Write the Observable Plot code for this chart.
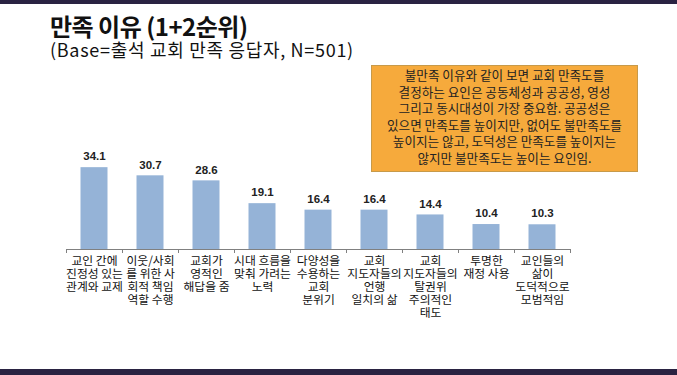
<!DOCTYPE html>
<html>
<head>
<meta charset="utf-8">
<script src="https://cdn.jsdelivr.net/npm/d3@7"></script>
<script src="https://cdn.jsdelivr.net/npm/@observablehq/plot@0.6"></script>
<style>
  html, body { margin: 0; padding: 0; background: #fff; }
  #page { position: relative; width: 677px; height: 375px; overflow: hidden; font-family: "Noto Sans CJK KR", "Noto Sans", sans-serif; }
  .band { position: absolute; left: 0; width: 677px; background: #2a2342; }
  #title { position: absolute; left: 50px; top: 11px; font-size: 24px; font-weight: bold; color: #111; letter-spacing: -0.5px; line-height: 30px; }
  #subtitle { position: absolute; left: 50px; top: 39px; font-size: 18px; color: #111; line-height: 20px; letter-spacing: 0.7px; }
  #note { position: absolute; z-index: 2; left: 371px; top: 65px; width: 265px; height: 104px; background: #f6aa3c; border: 1px solid #c79a4a; font-size: 12.6px; color: #222; text-align: center; line-height: 16.5px; padding-top: 1px; white-space: nowrap; }
  #chart { position: absolute; z-index: 1; left: 0; top: 140px; }
</style>
</head>
<body>
<div id="page">
  <div class="band" style="top:0;height:4px"></div>
  <div class="band" style="top:369px;height:6px"></div>
  <div id="title">만족 이유 (1+2순위)</div>
  <div id="subtitle">(Base=출석 교회 만족 응답자, N=501)</div>
  <div id="note">불만족 이유와 같이 보면 교회 만족도를<br>결정하는 요인은 공동체성과 공공성, 영성<br>그리고 동시대성이 가장 중요함. 공공성은<br>있으면 만족도를 높이지만, 없어도 불만족도를<br>높이지는 않고, 도덕성은 만족도를 높이지는<br>않지만 불만족도는 높이는 요인임.</div>
  <div id="chart"></div>
</div>
<script>
const categories = [
  "교인 간에\n진정성 있는\n관계와 교제",
  "이웃/사회\n를 위한 사\n회적 책임\n역할 수행",
  "교회가\n영적인\n해답을 줌",
  "시대 흐름을\n맞춰 가려는\n노력",
  "다양성을\n수용하는\n교회\n분위기",
  "교회\n지도자들의\n언행\n일치의 삶",
  "교회\n지도자들의\n탈권위\n주의적인\n태도",
  "투명한\n재정 사용",
  "교인들의\n삶이\n도덕적으로\n모범적임"
];
const values = [34.1, 30.7, 28.6, 19.1, 16.4, 16.4, 14.4, 10.4, 10.3];

const data = categories.map((c, i) => ({ i, label: c, value: values[i] }));
const boundaries = d3.range(categories.length + 1);

const chart = Plot.plot({
  width: 677,
  height: 230,
  marginLeft: 66,
  marginRight: 107,
  marginTop: 13,
  marginBottom: 121,
  x: { domain: [0, categories.length], axis: null },
  y: { domain: [0, 40], axis: null },
  style: { fontFamily: "'Noto Sans CJK KR', sans-serif", background: "transparent" },
  marks: [
    Plot.rectY(data, { x1: "i", x2: d => d.i + 1, y: "value", fill: "#95b3d7", insetLeft: 14.5, insetRight: 14.5 }),
    Plot.ruleY([0], { stroke: "#808080", strokeWidth: 1 }),
    Plot.axisX({ ticks: boundaries, tickFormat: () => "", tickSize: 4, label: null, stroke: "#808080" }),
    Plot.text(data, { x: d => d.i + 0.5, y: "value", text: d => d.value.toFixed(1), dy: -11, fontWeight: "bold", fontSize: 11.5, fill: "#222", fontFamily: "Liberation Sans, Arial, sans-serif" }),
    Plot.text(data, { x: d => d.i + 0.5, y: 0, text: "label", dy: 6, lineAnchor: "top", lineHeight: 1.1, fontSize: 11.8, fill: "#111" })
  ]
});
document.getElementById("chart").appendChild(chart);
</script>
</body>
</html>
